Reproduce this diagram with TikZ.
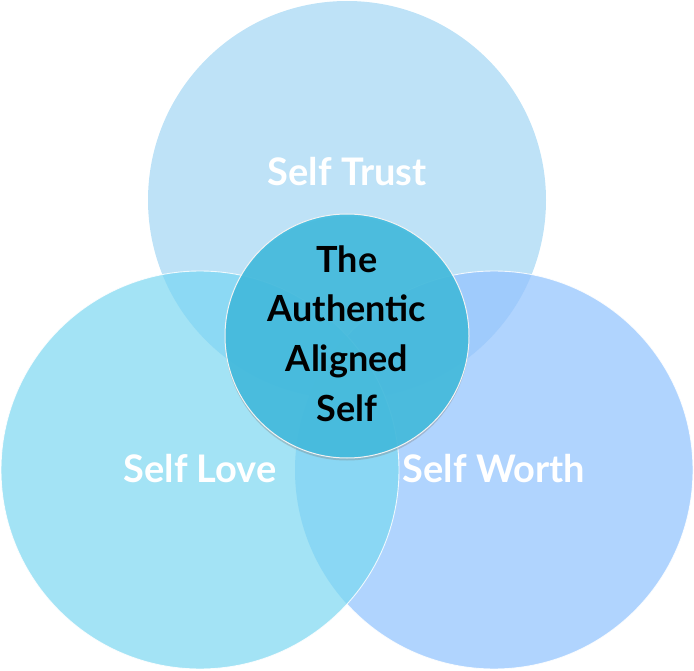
\documentclass[tikz,border=0pt]{standalone}
\usepackage{fontspec}
\setmainfont{Lato}
\usetikzlibrary{shadows}
\definecolor{Tc}{HTML}{BEE2F7}
\definecolor{Rc}{HTML}{B0D4FE}
\definecolor{Lc}{HTML}{A3E3F5}
\definecolor{TLc}{HTML}{8CD9F4}
\definecolor{TRc}{HTML}{9FCBFC}
\definecolor{LRc}{HTML}{8AD7F4}
\definecolor{TLRc}{HTML}{80CEF2}
\definecolor{Cc}{RGB}{66,188,223}
\tikzset{
  whitelabel/.style={anchor=base, text=white, font=\bfseries\fontsize{38}{42}\selectfont, inner sep=0pt},
  centerlabel/.style={anchor=base, text=black, font=\bfseries\fontsize{36}{44}\selectfont, inner sep=0pt},
  rim/.style={draw=white, draw opacity=0.85, line width=0.9pt}
}
\begin{document}
\begin{tikzpicture}[x=1pt,y=-1pt]
\useasboundingbox (0,0) rectangle (694,671);
\coordinate (T) at (347,200);
\coordinate (L) at (200,470);
\coordinate (R) at (494,470);
\coordinate (C) at (347,336);
% top circle
\fill[Tc] (T) circle (199pt);
% right circle
\fill[Rc] (R) circle (199pt);
\begin{scope}
  \clip (T) circle (199pt);
  \fill[TRc] (R) circle (199pt);
\end{scope}
\draw[rim] (R) circle (199pt);
% left circle
\fill[Lc] (L) circle (199pt);
\begin{scope}
  \clip (L) circle (199pt);
  \fill[TLc] (T) circle (199pt);
  \fill[LRc] (R) circle (199pt);
  \clip (T) circle (199pt);
  \fill[TLRc] (R) circle (199pt);
\end{scope}
\draw[rim] (L) circle (199pt);
% centre circle
\node[circle, minimum size=244pt, inner sep=0pt, fill=Cc, fill opacity=0.9,
      draw=white!90!gray, line width=1pt,
      drop shadow={opacity=0.35, shadow xshift=0pt, shadow yshift=-2.5pt}] (centre) at (C) {};
% labels
\node[whitelabel] (trust) at (347,186) {Self Trust};
\node[whitelabel] (love) at (200,482) {Self Love};
\node[whitelabel] (worth) at (494,482) {Self Worth};
\node[centerlabel] (l1) at (347,273) {The};
\node[centerlabel] (l2) at (347,322) {Authentic};
\node[centerlabel] (l3) at (347,371) {Aligned};
\node[centerlabel] (l4) at (347,421) {Self};
\end{tikzpicture}
\end{document}
